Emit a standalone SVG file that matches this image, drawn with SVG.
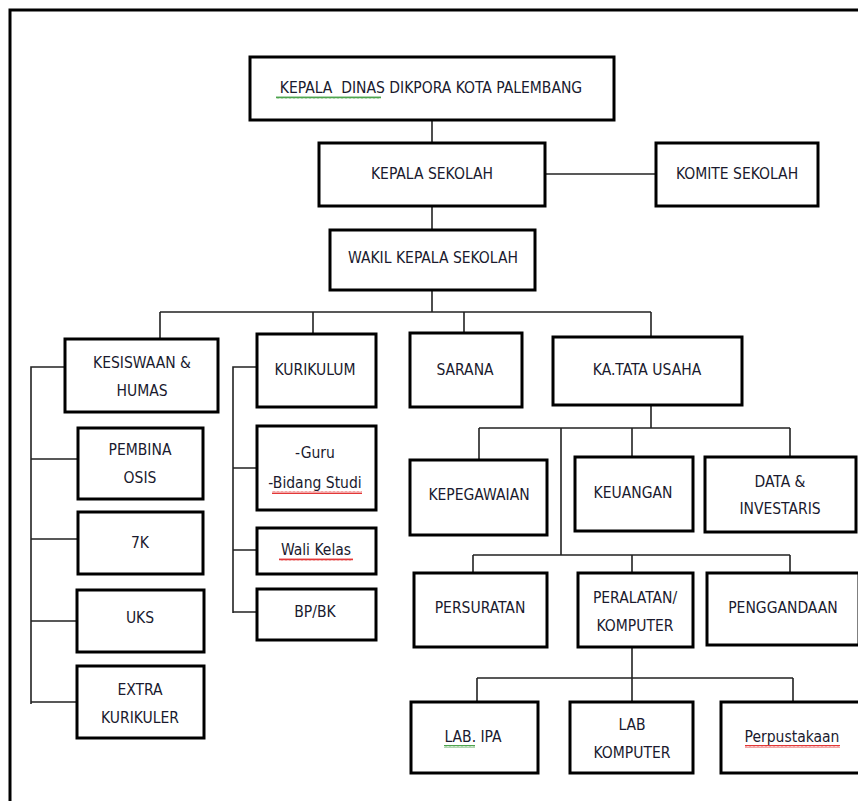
<svg xmlns="http://www.w3.org/2000/svg" width="858" height="801" viewBox="0 0 858 801">
<defs>
<style>
.box{fill:#fff;stroke:#000;stroke-width:3}
.ln{fill:none;stroke:#222;stroke-width:1.6}
.t{font-family:"Liberation Sans Narrow","DejaVu Sans Condensed","Liberation Sans",sans-serif;font-size:15.5px;fill:#1a1a2e;text-anchor:middle;white-space:pre}
.sqr{fill:none;stroke:#e02020;stroke-width:1}
.sqg{fill:none;stroke:#3a9a3a;stroke-width:1}
</style>
<pattern id="wr" width="4" height="3" patternUnits="userSpaceOnUse"><path d="M0,2.5 L1,0.5 L2,2.5 L3,0.5 L4,2.5" fill="none" stroke="#e02020" stroke-width="0.9"/></pattern>
<pattern id="wg" width="4" height="3" patternUnits="userSpaceOnUse"><path d="M0,2.5 L1,0.5 L2,2.5 L3,0.5 L4,2.5" fill="none" stroke="#3a9a3a" stroke-width="0.9"/></pattern>
</defs>
<rect width="858" height="801" fill="#fff"/>
<path d="M10,801 V10 H858" fill="none" stroke="#000" stroke-width="3"/>
<g id="connectors">
<path class="ln" d="M432,120 V143"/>
<path class="ln" d="M545,174 H656"/>
<path class="ln" d="M432,206 V230"/>
<path class="ln" d="M432,290 V312 M160,312 H651 M160,312 V339 M313,312 V334 M464,312 V333 M651,312 V337"/>
<path class="ln" d="M65,367 H31 V704 M31,459 H78 M31,539 H78 M31,621 H77 M31,702 H77"/>
<path class="ln" d="M257,367 H233 V613 M233,468 H257 M233,550 H257 M233,612 H257"/>
<path class="ln" d="M651,405 V428 M479,428 H790 M479,428 V460 M632,428 V457 M790,428 V457 M561,428 V555"/>
<path class="ln" d="M473,555 H790 M473,555 V573 M632,555 V573 M790,555 V573"/>
<path class="ln" d="M632,647 V702 M477,678 H793 M477,678 V702 M793,678 V702"/>
</g>
<g id="kepala-dinas"><rect class="box" x="250" y="57" width="364" height="63"/><text class="t" x="431" y="93">KEPALA  DINAS DIKPORA KOTA PALEMBANG</text><rect x="276" y="96" width="105" height="3" fill="url(#wg)"/></g>
<g id="kepala-sekolah"><rect class="box" x="319" y="143" width="226" height="63"/><text class="t" x="432" y="179">KEPALA SEKOLAH</text></g>
<g id="komite-sekolah"><rect class="box" x="656" y="143" width="162" height="63"/><text class="t" x="737" y="179">KOMITE SEKOLAH</text></g>
<g id="wakil"><rect class="box" x="330" y="230" width="205" height="60"/><text class="t" x="433" y="263">WAKIL KEPALA SEKOLAH</text></g>
<g id="kesiswaan"><rect class="box" x="65" y="339" width="153" height="73"/><text class="t" x="142" y="368">KESISWAAN &amp;</text><text class="t" x="142" y="396">HUMAS</text></g>
<g id="kurikulum"><rect class="box" x="257" y="334" width="119" height="73"/><text class="t" x="315" y="375">KURIKULUM</text></g>
<g id="sarana"><rect class="box" x="410" y="333" width="112" height="74"/><text class="t" x="465" y="375">SARANA</text></g>
<g id="tata-usaha"><rect class="box" x="553" y="337" width="189" height="68"/><text class="t" x="647" y="375">KA.TATA USAHA</text></g>
<g id="pembina-osis"><rect class="box" x="78" y="428" width="125" height="71"/><text class="t" x="140" y="455">PEMBINA</text><text class="t" x="140" y="483">OSIS</text></g>
<g id="7k"><rect class="box" x="78" y="512" width="125" height="62"/><text class="t" x="140" y="548">7K</text></g>
<g id="uks"><rect class="box" x="77" y="590" width="127" height="62"/><text class="t" x="140" y="623">UKS</text></g>
<g id="extra"><rect class="box" x="77" y="666" width="127" height="72"/><text class="t" x="140" y="695">EXTRA</text><text class="t" x="140" y="723">KURIKULER</text></g>
<g id="guru"><rect class="box" x="257" y="426" width="119" height="84"/><text class="t" x="315" y="458">-Guru</text><text class="t" x="315" y="488">-Bidang Studi</text><rect x="272" y="491" width="90" height="3" fill="url(#wr)"/></g>
<g id="wali-kelas"><rect class="box" x="257" y="528" width="119" height="46"/><text class="t" x="316" y="555">Wali Kelas</text><rect x="279" y="558" width="74" height="3" fill="url(#wr)"/></g>
<g id="bpbk"><rect class="box" x="257" y="589" width="119" height="51"/><text class="t" x="315" y="617">BP/BK</text></g>
<g id="kepegawaian"><rect class="box" x="410" y="460" width="137" height="75"/><text class="t" x="479" y="500">KEPEGAWAIAN</text></g>
<g id="keuangan"><rect class="box" x="575" y="457" width="118" height="74"/><text class="t" x="633" y="498">KEUANGAN</text></g>
<g id="data"><rect class="box" x="705" y="457" width="151" height="75"/><text class="t" x="780" y="487">DATA &amp;</text><text class="t" x="780" y="514">INVESTARIS</text></g>
<g id="persuratan"><rect class="box" x="414" y="573" width="133" height="74"/><text class="t" x="480" y="613">PERSURATAN</text></g>
<g id="peralatan"><rect class="box" x="578" y="573" width="115" height="74"/><text class="t" x="635" y="603">PERALATAN/</text><text class="t" x="635" y="631">KOMPUTER</text></g>
<g id="penggandaan"><rect class="box" x="707" y="573" width="152" height="72"/><text class="t" x="783" y="613">PENGGANDAAN</text></g>
<g id="lab-ipa"><rect class="box" x="411" y="702" width="127" height="71"/><text class="t" x="473" y="742">LAB. IPA</text><rect x="444" y="745" width="31" height="3" fill="url(#wg)"/></g>
<g id="lab-komputer"><rect class="box" x="570" y="702" width="123" height="71"/><text class="t" x="632" y="730">LAB</text><text class="t" x="632" y="758">KOMPUTER</text></g>
<g id="perpustakaan"><rect class="box" x="721" y="702" width="139" height="71"/><text class="t" x="792" y="742">Perpustakaan</text><rect x="745" y="745" width="95" height="3" fill="url(#wr)"/></g>
</svg>
